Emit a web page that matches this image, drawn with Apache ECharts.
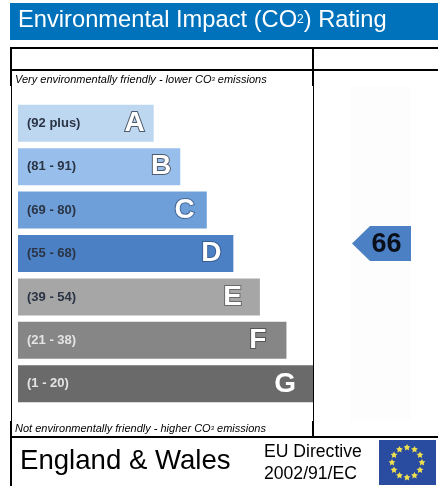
<!DOCTYPE html>
<html>
<head>
<meta charset="utf-8">
<title>Environmental Impact (CO2) Rating</title>
<script src="https://cdn.jsdelivr.net/npm/echarts@6/dist/echarts.min.js"></script>
<style>
  html, body { margin: 0; padding: 0; background: #fff; }
  #myChart { width: 438px; height: 486px; }
</style>
</head>
<body>
<div id="myChart"></div>
<script>
// Datas
const bands = ['(92 plus)', '(81 - 91)', '(69 - 80)', '(55 - 68)', '(39 - 54)', '(21 - 38)', '(1 - 20)']
const letters = ['A', 'B', 'C', 'D', 'E', 'F', 'G']
// bar length, as a percentage of the longest bar
const barLengths = [46, 55, 64, 73, 82, 91, 100]
const barColors = ['#BDD7F0', '#98BFEC', '#6E9FD8', '#4C80C4', '#A6A6A6', '#868686', '#6A6A6A']
const currentBand = '(55 - 68)'
const currentRating = 66

const FONT = '"Liberation Sans", Arial, sans-serif'
// right padding and outline colour of each letter inside its bar
const letterPad = [9, 9, 12, 12, 18, 20, 17]
const letterEdge = ['#4F5B6B', '#4F5B6B', '#46689A', '#3A5F95', '#6A6A6A', '#555555', '#6A6A6A']

const text = (x, y, rich, str) => ({
  type: 'text',
  x,
  y,
  style: { text: str, rich, fontFamily: FONT, verticalAlign: 'middle', fill: '#000' },
})
const line = (x1, y1, x2, y2, w) => ({
  type: 'line',
  shape: { x1, y1, x2, y2 },
  style: { stroke: '#000', lineWidth: w },
})
const star = (cx, cy, r) => {
  const points = []
  for (let i = 0; i < 10; i++) {
    const a = -Math.PI / 2 + i * Math.PI / 5
    const d = i % 2 ? r * 0.5 : r
    points.push([cx + d * Math.cos(a), cy + d * Math.sin(a)])
  }
  return { type: 'polygon', shape: { points }, style: { fill: '#EFE04E' } }
}
const flagStars = []
for (let i = 0; i < 12; i++) {
  const a = i * Math.PI / 6
  flagStars.push(star(407 + 15 * Math.sin(a), 462.5 - 15 * Math.cos(a), 3.6))
}

const note = { n: { fontSize: 11, fontStyle: 'italic', fontFamily: FONT, fill: '#000' }, s: { fontSize: 6, fontStyle: 'italic', fontFamily: FONT, fill: '#000' } }

const chart = echarts.init(document.getElementById('myChart'), null, { renderer: 'canvas' })
chart.setOption({
  animation: false,
  backgroundColor: '#fff',
  graphic: [
    { type: 'rect', shape: { x: 10, y: 3, width: 428, height: 37 }, style: { fill: '#0072BC' } },
    text(18, 20, {
      t: { fontSize: 23.7, fontFamily: FONT, fill: '#fff' },
      s: { fontSize: 12, fontFamily: FONT, fill: '#fff' },
    }, '{t|Environmental Impact (CO}{s|2}{t|) Rating}'),
    { type: 'rect', shape: { x: 350, y: 86, width: 61, height: 335 }, style: { fill: '#FCFDFC' } },
    line(10, 48, 438, 48, 2),
    line(11, 70, 438, 70, 2),
    line(11, 47, 11, 86, 2),
    line(11.5, 86, 11.5, 421, 1),
    line(11, 421, 11, 486, 2),
    line(313, 47, 313, 86, 2),
    line(313.5, 86, 313.5, 421, 1),
    line(313, 421, 313, 437, 2),
    line(11, 437, 438, 437, 2),
    text(15, 79.5, note, '{n|Very environmentally friendly - lower CO}{s|3}{n| emissions}'),
    text(15, 428.5, note, '{n|Not environmentally friendly - higher CO}{s|3}{n| emissions}'),
    text(20, 461, { e: { fontSize: 27.6, fontFamily: FONT, fill: '#000' } }, '{e|England & Wales}'),
    text(264, 452, { e: { fontSize: 17.6, fontFamily: FONT, fill: '#000' } }, '{e|EU Directive}'),
    text(264, 474, { e: { fontSize: 17.6, fontFamily: FONT, fill: '#000' } }, '{e|2002/91/EC}'),
    { type: 'rect', shape: { x: 379, y: 440, width: 57, height: 45 }, style: { fill: '#2A4CA0' } },
    ...flagStars,
  ],
  grid: [
    { left: 18, top: 101.5, width: 295, height: 304 },
    { left: 352, top: 101.5, width: 59, height: 304 },
  ],
  xAxis: [
    { gridIndex: 0, type: 'value', min: 0, max: 100, show: false },
    { gridIndex: 1, type: 'value', min: 0, max: 1, show: false },
  ],
  yAxis: [
    {
      gridIndex: 0,
      type: 'category',
      inverse: true,
      data: bands,
      z: 5,
      axisLine: { show: false },
      axisTick: { show: false },
      axisLabel: {
        inside: true,
        margin: 9,
        fontFamily: FONT,
        fontWeight: 'bold',
        fontSize: 13,
        color: (v) => (v === '(21 - 38)' || v === '(1 - 20)' ? '#E4E4E4' : '#2B3445'),
      },
    },
    { gridIndex: 1, type: 'category', inverse: true, data: bands, show: false },
  ],
  series: [
    {
      type: 'bar',
      xAxisIndex: 0,
      yAxisIndex: 0,
      barWidth: 37,
      data: barLengths.map((v, i) => ({
        value: v,
        itemStyle: { color: barColors[i] },
        label: {
          show: true,
          position: 'insideRight',
          distance: letterPad[i],
          formatter: letters[i],
          fontFamily: FONT,
          fontWeight: 'bold',
          fontSize: 28,
          color: '#fff',
          textBorderColor: letterEdge[i],
          textBorderWidth: 2,
        },
      })),
    },
    {
      type: 'scatter',
      xAxisIndex: 1,
      yAxisIndex: 1,
      symbol: 'path://M0 17.5 L18 0 H59 V35 H18 Z',
      symbolSize: [59, 35],
      symbolOffset: [0, -10],
      itemStyle: { color: '#4C80C4', opacity: 1 },
      label: {
        show: true,
        position: 'inside',
        offset: [5, 1],
        formatter: () => String(currentRating),
        fontFamily: FONT,
        fontWeight: 'bold',
        fontSize: 27,
        color: '#0A0F1A',
      },
      data: [[0.5, currentBand]],
    },
  ],
})
</script>
</body>
</html>
